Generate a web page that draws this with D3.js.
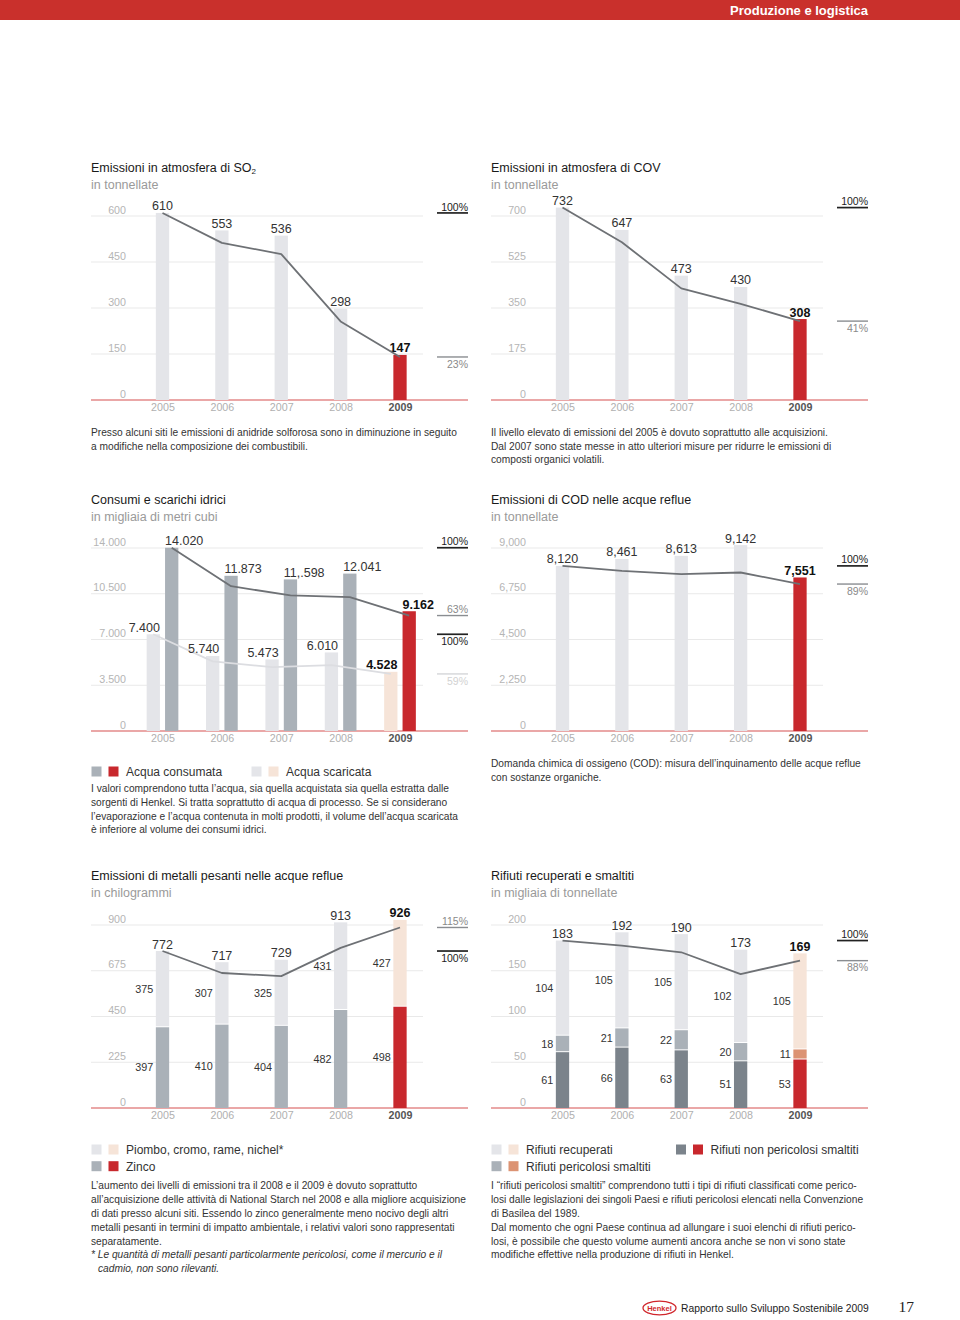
<!DOCTYPE html>
<html><head><meta charset="utf-8">
<script src="https://cdn.jsdelivr.net/npm/d3@7"></script>
<style>
body{margin:0;background:#fff;}
svg{display:block;font-family:"Liberation Sans",Arial,Helvetica,sans-serif;}
</style></head><body>
<svg id="page" width="960" height="1320"></svg>
<script>
// ---------------- DATA ----------------
const years = ["2005","2006","2007","2008","2009"];

// SO2
const so2Values = [610, 553, 536, 298, 147];
const so2Index = [100, 84, 78, 42, 23];
const so2Ticks = [0, 150, 300, 450, 600];

// COV
const covValues = [732, 647, 473, 430, 308];
const covIndex = [100, 82, 58, 50, 41];
const covTicks = [0, 175, 350, 525, 700];

// Water
const waterConsumed = [14020, 11873, 11598, 12041, 9162];
const waterConsumedLabels = ["14.020", "11.873", "11,.598", "12.041", "9.162"];
const waterDischarged = [7400, 5740, 5473, 6010, 4528];
const waterDischargedLabels = ["7.400", "5.740", "5.473", "6.010", "4.528"];
const waterConsumedIndex = [100, 79, 74, 73, 63];
const waterDischargedIndex = [100, 72, 66, 68, 59];
const waterTicks = [0, 3500, 7000, 10500, 14000];
const waterTickLabels = ["0", "3.500", "7.000", "10.500", "14.000"];

// COD
const codValues = [8120, 8461, 8613, 9142, 7551];
const codIndex = [100, 97, 95, 96, 89];
const codTicks = [0, 2250, 4500, 6750, 9000];

// Heavy metals
const zinc = [397, 410, 404, 482, 498];
const otherMetals = [375, 307, 325, 431, 427];
const metalsTotals = [772, 717, 729, 913, 926];
const metalsIndex = [100, 86, 84, 102, 115];
const metalsTicks = [0, 225, 450, 675, 900];

// Waste
const wasteNonHaz = [61, 66, 63, 51, 53];
const wasteHaz = [18, 21, 22, 20, 11];
const wasteRecovered = [104, 105, 105, 102, 105];
const wasteTotals = [183, 192, 190, 173, 169];
const wasteIndex = [100, 97, 93, 80, 88];
const wasteTicks = [0, 50, 100, 150, 200];

// ---------------- STYLE ----------------
const C = {
  light: "#e4e5e9", peach: "#f6e4d8", gray: "#aab1b8", dark: "#7b838b",
  red: "#c8282d", salmon: "#dc9373", line: "#6e7175", lightLine: "#dcdde1",
  grid: "#e9e9e9", base: "#d65050"
};
const svg = d3.select("#page");
const BW = 13.3;

// header
svg.append("rect").attr("x", 0).attr("y", 0).attr("width", 960).attr("height", 20).attr("fill", "#c9302c");
svg.append("text").attr("x", 868).attr("y", 14.6).attr("text-anchor", "end").attr("fill", "#fff")
  .attr("font-weight", "bold").attr("font-size", 13).text("Produzione e logistica");

function makeFrame(opt) {
  const g = svg.append("g");
  const L = opt.left;
  const y = d3.scaleLinear().domain([0, d3.max(opt.ticks)]).range([opt.base, opt.top]);
  const x = d3.scalePoint().domain(years).range([L + 71.5, L + 309]);
  const t = g.append("text").attr("x", L).attr("y", opt.titleY).attr("font-size", 12.5).attr("fill", "#1a1a1a");
  t.append("tspan").text(opt.title);
  if (opt.sub) t.append("tspan").attr("font-size", 8).attr("dy", 2).text(opt.sub);
  g.append("text").attr("x", L).attr("y", opt.titleY + 17).attr("font-size", 12.5).attr("fill", "#9a9a9a").text(opt.subtitle);
  g.selectAll(".grid").data(opt.ticks.filter(d => d > 0)).join("line")
    .attr("x1", L).attr("x2", L + 332).attr("y1", d => y(d)).attr("y2", d => y(d))
    .attr("stroke", C.grid).attr("stroke-width", 1);
  const ya = g.append("g").attr("transform", `translate(${L + 35},0)`)
    .call(d3.axisLeft(y).tickValues(opt.ticks).tickFormat(opt.fmt).tickSize(0).tickPadding(0));
  ya.select(".domain").remove();
  ya.selectAll("text").attr("dy", "-0.28em").attr("font-size", 10.7).attr("fill", "#b5b5b5").attr("font-family", null);
  const xa = g.append("g").attr("transform", `translate(0,${opt.base + 3})`)
    .call(d3.axisBottom(x).tickSize(0).tickPadding(0));
  xa.select(".domain").remove();
  xa.selectAll("text").attr("font-size", 10.7).attr("font-family", null)
    .attr("fill", d => d === "2009" ? "#555" : "#b0b0b0")
    .attr("font-weight", d => d === "2009" ? "bold" : null);
  g.append("line").attr("x1", L).attr("x2", L + 377).attr("y1", opt.base).attr("y2", opt.base)
    .attr("stroke", C.base).attr("stroke-width", 1.2);
  return {g, x, y, L};
}

function marker(f, yv, label, side, kind) {
  const col = kind === "black" ? "#222" : kind === "gray" ? "#8a8d91" : "#d5d6d9";
  const tcol = kind === "black" ? "#222" : kind === "gray" ? "#8a8a8a" : "#d2d2d2";
  const yy = f.y(yv);
  f.g.append("line").attr("x1", f.L + 346).attr("x2", f.L + 377).attr("y1", yy).attr("y2", yy)
    .attr("stroke", col).attr("stroke-width", kind === "black" ? 1.7 : 1.4);
  f.g.append("text").attr("x", f.L + 377).attr("y", side === "above" ? yy - 2.4 : yy + 10.8)
    .attr("text-anchor", "end").attr("font-size", 10.5).attr("fill", tcol).text(label);
}

function indexLine(f, idx, baseVal, dx, color) {
  const line = d3.line().x((d, i) => f.x(years[i]) + dx).y(d => f.y(d / 100 * baseVal));
  f.g.append("path").datum(idx).attr("d", line).attr("fill", "none")
    .attr("stroke", color).attr("stroke-width", 1.8).attr("stroke-linejoin", "round");
}

function para(x, y0, lines, size) {
  const t = svg.append("text").attr("font-size", size || 10.2).attr("fill", "#333");
  lines.forEach((l, i) => {
    const o = typeof l === "string" ? {t: l} : l;
    t.append("tspan").attr("x", x + (o.indent || 0)).attr("y", y0 + i * 13.8)
      .attr("font-style", o.italic ? "italic" : null).text(o.t);
  });
}

function legend(x, y, colors, label) {
  colors.forEach((c, i) => svg.append("rect").attr("x", x + i * 17).attr("y", y - 5.5)
    .attr("width", 10).attr("height", 10).attr("fill", c));
  svg.append("text").attr("x", x + 34.5).attr("y", y + 4.3).attr("font-size", 12).attr("fill", "#333").text(label);
}

function singleBars(f, values, labelFmt) {
  f.g.selectAll(".bar").data(values).join("rect")
    .attr("x", (d, i) => f.x(years[i]) - BW / 2).attr("width", BW)
    .attr("y", d => f.y(d)).attr("height", d => f.y(0) - f.y(d))
    .attr("fill", (d, i) => i === 4 ? C.red : C.light);
  f.g.selectAll(".vl").data(values).join("text")
    .attr("x", (d, i) => f.x(years[i])).attr("y", d => f.y(d) - 2.5)
    .attr("text-anchor", "middle").attr("font-size", 12.5)
    .attr("fill", (d, i) => i === 4 ? "#111" : "#333")
    .attr("font-weight", (d, i) => i === 4 ? "bold" : null)
    .text(labelFmt);
}

// ---------------- CHART 1: SO2 ----------------
{
  const f = makeFrame({left: 91, top: 216, base: 400, ticks: so2Ticks, fmt: d3.format("d"),
    titleY: 171.5, title: "Emissioni in atmosfera di SO", sub: "2", subtitle: "in tonnellate"});
  singleBars(f, so2Values, d => d);
  indexLine(f, so2Index, so2Values[0], 0, C.line);
  marker(f, so2Values[0], "100%", "above", "black");
  marker(f, so2Index[4] / 100 * so2Values[0], "23%", "below", "gray");
  para(91, 435.8, ["Presso alcuni siti le emissioni di anidride solforosa sono in diminuzione in seguito",
    "a modifiche nella composizione dei combustibili."]);
}

// ---------------- CHART 2: COV ----------------
{
  const f = makeFrame({left: 491, top: 216, base: 400, ticks: covTicks, fmt: d3.format("d"),
    titleY: 171.5, title: "Emissioni in atmosfera di COV", subtitle: "in tonnellate"});
  singleBars(f, covValues, d => d);
  indexLine(f, covIndex, covValues[0], 0, C.line);
  marker(f, covValues[0], "100%", "above", "black");
  marker(f, covIndex[4] / 100 * covValues[0], "41%", "below", "gray");
  para(491, 435.8, ["Il livello elevato di emissioni del 2005 è dovuto soprattutto alle acquisizioni.",
    "Dal 2007 sono state messe in atto ulteriori misure per ridurre le emissioni di",
    "composti organici volatili."]);
}

// ---------------- CHART 3: Water ----------------
{
  const f = makeFrame({left: 91, top: 548, base: 731, ticks: waterTicks,
    fmt: (d, i) => waterTickLabels[waterTicks.indexOf(d)],
    titleY: 503.5, title: "Consumi e scarichi idrici", subtitle: "in migliaia di metri cubi"});
  const off = 9.2;
  f.g.selectAll(".bl").data(waterDischarged).join("rect")
    .attr("x", (d, i) => f.x(years[i]) - off - BW / 2).attr("width", BW)
    .attr("y", d => f.y(d)).attr("height", d => f.y(0) - f.y(d))
    .attr("fill", (d, i) => i === 4 ? C.peach : C.light);
  f.g.selectAll(".bd").data(waterConsumed).join("rect")
    .attr("x", (d, i) => f.x(years[i]) + off - BW / 2).attr("width", BW)
    .attr("y", d => f.y(d)).attr("height", d => f.y(0) - f.y(d))
    .attr("fill", (d, i) => i === 4 ? C.red : C.gray);
  indexLine(f, waterDischargedIndex, waterDischarged[0], -off, C.lightLine);
  indexLine(f, waterConsumedIndex, waterConsumed[0], off, C.line);
  f.g.selectAll(".ll").data(waterDischarged).join("text")
    .attr("x", (d, i) => f.x(years[i]) - off + BW / 2).attr("y", d => f.y(d) - 2.5)
    .attr("text-anchor", "end").attr("font-size", 12.5)
    .attr("fill", (d, i) => i === 4 ? "#111" : "#333").attr("font-weight", (d, i) => i === 4 ? "bold" : null)
    .text((d, i) => waterDischargedLabels[i]);
  f.g.selectAll(".ld").data(waterConsumed).join("text")
    .attr("x", (d, i) => f.x(years[i]) + off - BW / 2).attr("y", d => f.y(d) - 2.5)
    .attr("text-anchor", "start").attr("font-size", 12.5)
    .attr("fill", (d, i) => i === 4 ? "#111" : "#333").attr("font-weight", (d, i) => i === 4 ? "bold" : null)
    .text((d, i) => waterConsumedLabels[i]);
  marker(f, waterConsumed[0], "100%", "above", "black");
  marker(f, waterConsumedIndex[4] / 100 * waterConsumed[0], "63%", "above", "gray");
  marker(f, waterDischarged[0], "100%", "below", "black");
  marker(f, waterDischargedIndex[4] / 100 * waterDischarged[0], "59%", "below", "light");
  legend(91.5, 772, [C.gray, C.red], "Acqua consumata");
  legend(251.5, 772, [C.light, C.peach], "Acqua scaricata");
  para(91, 792, ["I valori comprendono tutta l’acqua, sia quella acquistata sia quella estratta dalle",
    "sorgenti di Henkel. Si tratta soprattutto di acqua di processo. Se si considerano",
    "l’evaporazione e l’acqua contenuta in molti prodotti, il volume dell’acqua scaricata",
    "è inferiore al volume dei consumi idrici."]);
}

// ---------------- CHART 4: COD ----------------
{
  const f = makeFrame({left: 491, top: 548, base: 731, ticks: codTicks, fmt: d3.format(","),
    titleY: 503.5, title: "Emissioni di COD nelle acque reflue", subtitle: "in tonnellate"});
  singleBars(f, codValues, d3.format(","));
  indexLine(f, codIndex, codValues[0], 0, C.line);
  marker(f, codValues[0], "100%", "above", "black");
  marker(f, codIndex[4] / 100 * codValues[0], "89%", "below", "gray");
  para(491, 766.8, ["Domanda chimica di ossigeno (COD): misura dell’inquinamento delle acque reflue",
    "con sostanze organiche."]);
}

function stackedBars(f, keys, data, colors, colors09) {
  const series = d3.stack().keys(keys)(data);
  series.forEach((s, si) => {
    f.g.selectAll(".s" + si).data(s).join("rect")
      .attr("x", (d, i) => f.x(years[i]) - BW / 2).attr("width", BW)
      .attr("y", d => f.y(d[1]))
      .attr("height", d => Math.max(0, f.y(d[0]) - f.y(d[1]) - (si > 0 ? 1 : 0)))
      .attr("fill", (d, i) => i === 4 ? colors09[si] : colors[si]);
    f.g.selectAll(".t" + si).data(s).join("text")
      .attr("x", (d, i) => f.x(years[i]) - BW / 2 - 2.5)
      .attr("y", d => (f.y(d[0]) + f.y(d[1])) / 2 + 3.8)
      .attr("text-anchor", "end").attr("font-size", 10.8).attr("fill", "#333")
      .text(d => d[1] - d[0]);
  });
}

// ---------------- CHART 5: Metals ----------------
{
  const f = makeFrame({left: 91, top: 925, base: 1108, ticks: metalsTicks, fmt: d3.format("d"),
    titleY: 879.5, title: "Emissioni di metalli pesanti nelle acque reflue", subtitle: "in chilogrammi"});
  const data = years.map((y, i) => ({zinc: zinc[i], other: otherMetals[i]}));
  stackedBars(f, ["zinc", "other"], data, [C.gray, C.light], [C.red, C.peach]);
  f.g.selectAll(".tot").data(metalsTotals).join("text")
    .attr("x", (d, i) => f.x(years[i])).attr("y", (d, i) => f.y(zinc[i] + otherMetals[i]) - 2.5)
    .attr("text-anchor", "middle").attr("font-size", 12.5)
    .attr("fill", (d, i) => i === 4 ? "#111" : "#333").attr("font-weight", (d, i) => i === 4 ? "bold" : null)
    .text(d => d);
  indexLine(f, metalsIndex, metalsTotals[0], 0, C.line);
  marker(f, metalsIndex[4] / 100 * metalsTotals[0], "115%", "above", "gray");
  marker(f, metalsTotals[0], "100%", "below", "black");
  legend(91.5, 1150, [C.light, C.peach], "Piombo, cromo, rame, nichel*");
  legend(91.5, 1166.7, [C.gray, C.red], "Zinco");
  para(91, 1189.3, ["L’aumento dei livelli di emissioni tra il 2008 e il 2009 è dovuto soprattutto",
    "all’acquisizione delle attività di National Starch nel 2008 e alla migliore acquisizione",
    "di dati presso alcuni siti. Essendo lo zinco generalmente meno nocivo degli altri",
    "metalli pesanti in termini di impatto ambientale, i relativi valori sono rappresentati",
    "separatamente.",
    {t: "* Le quantità di metalli pesanti particolarmente pericolosi, come il mercurio e il", italic: true},
    {t: "cadmio, non sono rilevanti.", italic: true, indent: 7}]);
}

// ---------------- CHART 6: Waste ----------------
{
  const f = makeFrame({left: 491, top: 925, base: 1108, ticks: wasteTicks, fmt: d3.format("d"),
    titleY: 879.5, title: "Rifiuti recuperati e smaltiti", subtitle: "in migliaia di tonnellate"});
  const data = years.map((y, i) => ({nonhaz: wasteNonHaz[i], haz: wasteHaz[i], rec: wasteRecovered[i]}));
  stackedBars(f, ["nonhaz", "haz", "rec"], data, [C.dark, C.gray, C.light], [C.red, C.salmon, C.peach]);
  f.g.selectAll(".tot").data(wasteTotals).join("text")
    .attr("x", (d, i) => f.x(years[i])).attr("y", (d, i) => f.y(wasteNonHaz[i] + wasteHaz[i] + wasteRecovered[i]) - 2.5)
    .attr("text-anchor", "middle").attr("font-size", 12.5)
    .attr("fill", (d, i) => i === 4 ? "#111" : "#333").attr("font-weight", (d, i) => i === 4 ? "bold" : null)
    .text(d => d);
  indexLine(f, wasteIndex, wasteTotals[0], 0, C.line);
  marker(f, wasteTotals[0], "100%", "above", "black");
  marker(f, wasteIndex[4] / 100 * wasteTotals[0], "88%", "below", "gray");
  legend(491.5, 1150, [C.light, C.peach], "Rifiuti recuperati");
  legend(676, 1150, [C.dark, C.red], "Rifiuti non pericolosi smaltiti");
  legend(491.5, 1166.7, [C.gray, C.salmon], "Rifiuti pericolosi smaltiti");
  para(491, 1189.3, ["I “rifiuti pericolosi smaltiti” comprendono tutti i tipi di rifiuti classificati come perico-",
    "losi dalle legislazioni dei singoli Paesi e rifiuti pericolosi elencati nella Convenzione",
    "di Basilea del 1989.",
    "Dal momento che ogni Paese continua ad allungare i suoi elenchi di rifiuti perico-",
    "losi, è possibile che questo volume aumenti ancora anche se non vi sono state",
    "modifiche effettive nella produzione di rifiuti in Henkel."]);
}

// ---------------- FOOTER ----------------
svg.append("ellipse").attr("cx", 659.5).attr("cy", 1308).attr("rx", 16.5).attr("ry", 6.8)
  .attr("fill", "#fff").attr("stroke", "#d0262c").attr("stroke-width", 1.3);
svg.append("text").attr("x", 659.5).attr("y", 1310.6).attr("text-anchor", "middle").attr("font-size", 7.5)
  .attr("font-weight", "bold").attr("fill", "#d0262c").text("Henkel");
svg.append("text").attr("x", 681).attr("y", 1311.6).attr("font-size", 10.3).attr("fill", "#222")
  .text("Rapporto sullo Sviluppo Sostenibile 2009");
svg.append("text").attr("x", 914).attr("y", 1311.5).attr("text-anchor", "end").attr("font-size", 15.5)
  .attr("font-family", "'Liberation Serif','DejaVu Serif',serif").attr("fill", "#222").text("17");
</script>
</body></html>
